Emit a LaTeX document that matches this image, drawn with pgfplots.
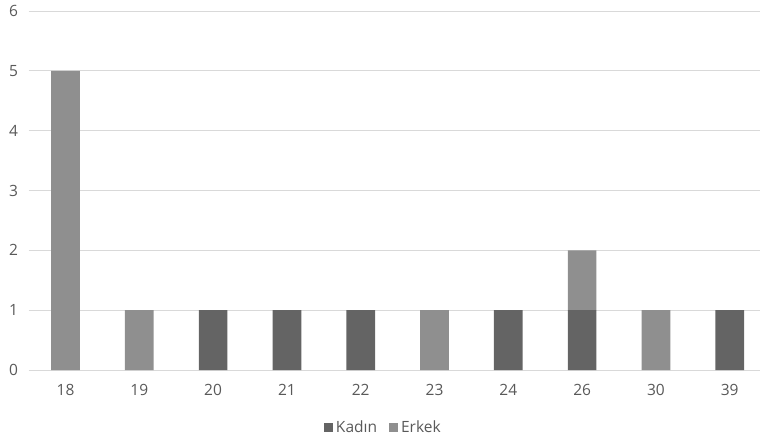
\documentclass[border=0pt]{standalone}
\usepackage{fontspec}
\setmainfont{Open Sans}
\usepackage{pgfplots}
\pgfplotsset{compat=1.18}
\definecolor{kadin}{HTML}{646464}
\definecolor{erkek}{HTML}{8F8F8F}
\definecolor{gridc}{HTML}{D9D9D9}
\definecolor{txt}{HTML}{595959}
\begin{document}
\begin{tikzpicture}[x=1pt,y=1pt]
\begin{axis}[
  at={(0,0)}, anchor=south west,
  scale only axis, width=731.4pt, height=359pt,
  ybar stacked, bar width=28.7pt,
  xmin=-0.5, xmax=9.41, ymin=0, ymax=6,
  ytick={0,1,2,3,4,5,6},
  xtick={0,1,2,3,4,5,6,7,8,9},
  xticklabels={18,19,20,21,22,23,24,26,30,39},
  axis line style={draw=none},
  ymajorgrids, grid style={gridc, line width=1pt},
  major tick length=0pt,
  ticklabel style={font=\fontsize{15.5}{18}\selectfont, text=txt},
  xticklabel style={yshift=-11pt},
  yticklabel style={xshift=-7pt},
  /pgf/number format/assume math mode=true,
  clip=false,
  legend style={at={(0.485,-0.159)}, anchor=center, draw=none, fill=none,
    legend columns=-1, font=\fontsize{15.5}{18}\selectfont, text=txt,
    /tikz/every odd column/.append style={column sep=1pt},
    /tikz/every even column/.append style={column sep=10pt}},
  legend image code/.code={\fill[#1] (0pt,-4.5pt) rectangle (9pt,4.5pt);},
]
\addplot+[fill=kadin, draw=none] coordinates {(0,0) (1,0) (2,1) (3,1) (4,1) (5,0) (6,1) (7,1) (8,0) (9,1)};
\addplot+[fill=erkek, draw=none] coordinates {(0,5) (1,1) (2,0) (3,0) (4,0) (5,1) (6,0) (7,1) (8,1) (9,0)};
\legend{Kadın, Erkek}
\end{axis}
\pgfresetboundingbox
\path[use as bounding box] (-28.6,-70) rectangle (731.4,370);
\end{tikzpicture}
\end{document}
